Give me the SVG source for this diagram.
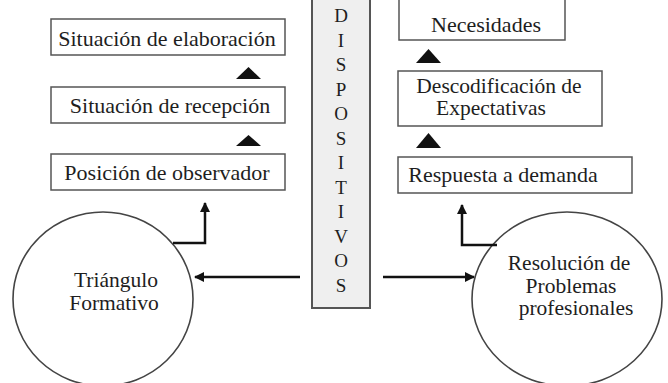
<svg xmlns="http://www.w3.org/2000/svg" width="668" height="383" viewBox="0 0 668 383">
<style>
  .box { fill: #ffffff; stroke: #555555; stroke-width: 1.5; }
  .col { fill: #efefef; stroke: #555555; stroke-width: 2; }
  .circ { fill: #ffffff; stroke: #444444; stroke-width: 1.6; }
  .t { font-family: "Liberation Serif", "Times New Roman", serif; font-size: 22px; fill: #1e1e1e; text-anchor: middle; }
  .t2 { font-family: "Liberation Serif", "Times New Roman", serif; font-size: 21.5px; fill: #1e1e1e; text-anchor: middle; }
  .v { font-family: "Liberation Serif", "Times New Roman", serif; font-size: 19px; fill: #1e1e1e; text-anchor: middle; }
  .tri { fill: #111111; }
  .conn { fill: none; stroke: #111111; stroke-width: 2.5; }
</style>
<defs>
  <marker id="ah" viewBox="0 0 10 10" refX="9" refY="5" markerWidth="4" markerHeight="4" orient="auto" markerUnits="strokeWidth">
    <path d="M0,0 L10,5 L0,10 z" fill="#111111"/>
  </marker>
</defs>
<rect width="668" height="383" fill="#ffffff"/>

<g id="dispositivos">
  <rect class="col" x="312" y="-5" width="58" height="313"/>
  <text class="v" x="341" y="22">D</text>
  <text class="v" x="341" y="46.5">I</text>
  <text class="v" x="341" y="71">S</text>
  <text class="v" x="341" y="95.5">P</text>
  <text class="v" x="341" y="120">O</text>
  <text class="v" x="341" y="144.5">S</text>
  <text class="v" x="341" y="169">I</text>
  <text class="v" x="341" y="193.5">T</text>
  <text class="v" x="341" y="218">I</text>
  <text class="v" x="341" y="242.5">V</text>
  <text class="v" x="341" y="267">O</text>
  <text class="v" x="341" y="291.5">S</text>
</g>

<g id="elaboracion">
  <rect class="box" x="51" y="19" width="234" height="36"/>
  <text class="t" x="167" y="46">Situación de elaboración</text>
</g>
<g id="recepcion">
  <rect class="box" x="51" y="87" width="234" height="36"/>
  <text class="t" x="170" y="113">Situación de recepción</text>
</g>
<g id="observador">
  <rect class="box" x="51" y="154" width="234" height="36"/>
  <text class="t" x="167" y="180">Posición de observador</text>
</g>

<g id="necesidades">
  <rect class="box" x="399" y="-5" width="166" height="45"/>
  <text class="t" x="486" y="32">Necesidades</text>
</g>
<g id="descodificacion">
  <rect class="box" x="398" y="71" width="204" height="55"/>
  <text class="t2" x="499" y="93">Descodificación de</text>
  <text class="t2" x="491" y="115">Expectativas</text>
</g>
<g id="respuesta">
  <rect class="box" x="398" y="157" width="234" height="36"/>
  <text class="t" x="503" y="182">Respuesta a demanda</text>
</g>

<g id="triangulo">
  <ellipse class="circ" cx="103" cy="299" rx="90" ry="87"/>
  <text class="t2" x="116" y="287">Triángulo</text>
  <text class="t2" x="114" y="310">Formativo</text>
</g>
<g id="resolucion">
  <ellipse class="circ" cx="567" cy="299" rx="95" ry="87"/>
  <text class="t2" x="569" y="270">Resolución de</text>
  <text class="t2" x="571" y="293">Problemas</text>
  <text class="t2" x="576" y="315">profesionales</text>
</g>

<g id="connectors">
  <polygon class="tri" points="236,79 261,79 248.5,67"/>
  <polygon class="tri" points="236,146 261,146 248.5,135"/>
  <polygon class="tri" points="416,63 441,63 428.5,49"/>
  <polygon class="tri" points="416,148 441,148 428.5,133"/>
  <path class="conn" d="M173,243 H205 V203" marker-end="url(#ah)"/>
  <path class="conn" d="M300,277 H195" marker-end="url(#ah)"/>
  <path class="conn" d="M383,277 H474" marker-end="url(#ah)"/>
  <path class="conn" d="M497,245 H462 V205" marker-end="url(#ah)"/>
</g>
</svg>
